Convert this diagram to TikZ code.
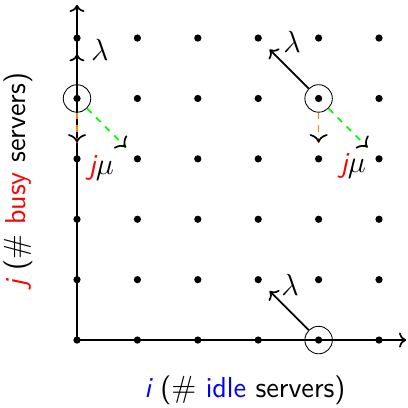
\documentclass[tikz,border=0pt]{standalone}
\usetikzlibrary{arrows.meta}
\tikzset{
  dot/.style={circle, fill=black, inner sep=0pt, minimum size=0.12cm},
  cur/.style={circle, draw, thin, inner sep=0pt, minimum size=0.455cm},
  lam/.style={->, thick, shorten >=0.2cm},
  mu/.style={dashed, thick, shorten >=0.2cm,
    postaction={draw=black, solid, -{To[scale=1.2]}, shorten <=#1}},
  lbl/.style={font=\fontsize{13.6}{16}\selectfont\sffamily}
}
\begin{document}
\begin{tikzpicture}[>=To]
        \useasboundingbox (-1.275,-1.109) rectangle (5.48,5.63);
        % Axes
        \draw[->, thick] (0,0) -- (5.45,0);
        \draw[->, thick] (0,0) -- (0,5.55);
        
        % Grid of states
        \foreach \i in {0,...,5}
          \foreach \j in {0,...,5}
            \node[dot] (d\i\j) at (\i,\j) {};
        
        % Current states
        \node[cur] (c04) at (0,4) {};
        \node[cur] (c44) at (4,4) {};
        \node[cur] (c40) at (4,0) {};
        
        % Transitions
        \draw[lam] (c04) -- (d05);
        \draw[lam] (c44) -- (d35);
        \draw[lam] (c40) -- (d31);
        \draw[mu=0.45cm, orange] (c04) -- (d03);
        \draw[mu=0.86cm, green] (c04) -- (d13);
        \draw[mu=0.45cm, orange] (c44) -- (d43);
        \draw[mu=0.86cm, green] (c44) -- (d53);
        
        % Labels
        \node[lbl] (l1) at (0.38,4.8) {$\lambda$};
        \node[lbl] (l2) at (3.56,4.93) {$\lambda$};
        \node[lbl] (l3) at (3.53,0.91) {$\lambda$};
        \node[lbl] (m1) at (0.4,2.85) {\textcolor{red}{\itshape j}$\mu$};
        \node[lbl] (m2) at (4.57,2.88) {\textcolor{red}{\itshape j}$\mu$};
        \node[lbl] (xl) at (2.78,-0.83) {\textcolor{blue}{\itshape i} ($\#$ \textcolor{blue}{idle} servers)};
        \node[lbl, rotate=90] (yl) at (-0.98,2.65) {\textcolor{red}{\itshape j} ($\#$ \textcolor{red}{busy} servers)};
    \end{tikzpicture}
\end{document}
